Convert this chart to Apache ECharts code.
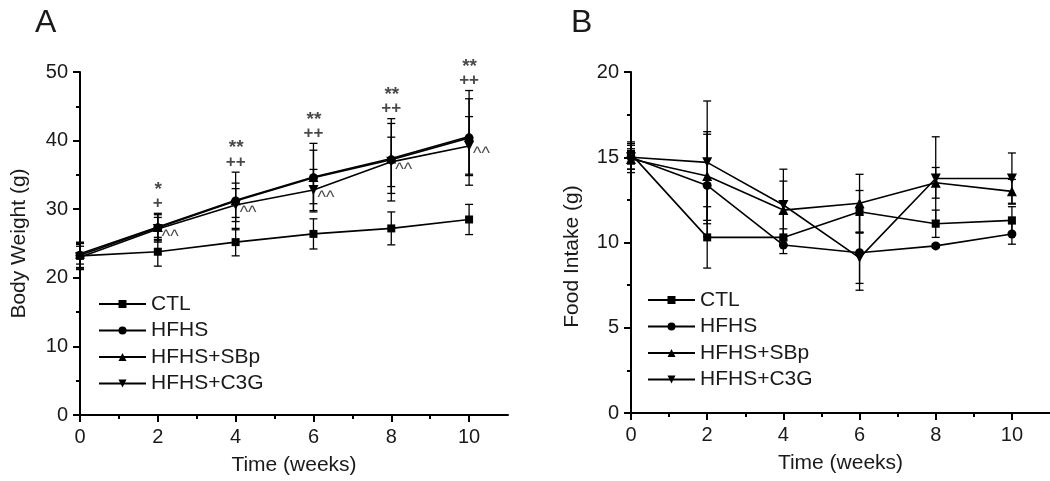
<!DOCTYPE html>
<html lang="en">
<head>
    <meta charset="UTF-8">
    <title>Body Weight and Food Intake</title>
    <script src="https://cdn.jsdelivr.net/npm/echarts@6/dist/echarts.min.js"></script>
</head>
<body style="margin:0">
    <div id="main" style="width:1050px;height:481px;"></div>
</body>
    <script>
        // x values and tick labels
        var weeks = [0, 2, 4, 6, 8, 10];
        var majorTicks = [0, 2, 4, 6, 8, 10];
        var minorTicks = [1, 3, 5, 7, 9];
        var groups = ['CTL', 'HFHS', 'HFHS+SBp', 'HFHS+C3G'];

        // A: body weight (g), mean and sd
        var bwCTL = [23.2, 23.8, 25.2, 26.4, 27.2, 28.5];
        var bwCTLsd = [2.0, 2.1, 2.0, 2.2, 2.4, 2.2];
        var bwHFHS = [23.3, 27.3, 31.2, 34.6, 37.2, 40.4];
        var bwHFHSsd = [1.8, 2.1, 4.2, 5.0, 6.0, 6.9];
        var bwSBp = [23.5, 27.4, 31.3, 34.7, 37.4, 40.6];
        var bwSBpsd = [1.5, 1.8, 2.5, 3.9, 5.1, 5.5];
        var bwC3G = [23.0, 27.1, 30.6, 32.8, 36.9, 39.2];
        var bwC3Gsd = [1.6, 1.7, 2.4, 3.0, 3.6, 4.3];

        // B: food intake (g), mean and sd
        var fiCTL = [15.2, 10.3, 10.3, 11.8, 11.1, 11.3];
        var fiCTLsd = [0.6, 1.8, 0.5, 1.25, 0.8, 0.8];
        var fiHFHS = [15.0, 13.35, 9.85, 9.4, 9.8, 10.5];
        var fiHFHSsd = [0.9, 3.0, 0.5, 2.2, 0.1, 0.6];
        var fiSBp = [14.9, 13.9, 11.9, 12.3, 13.5, 13.0];
        var fiSBpsd = [0.6, 2.6, 1.7, 1.7, 0.9, 0.7];
        var fiC3G = [15.0, 14.7, 12.2, 9.1, 13.75, 13.75];
        var fiC3Gsd = [0.7, 3.6, 2.1, 1.5, 2.45, 1.5];

        // significance marks on panel A
        var sigWeeks = [2, 4, 6, 8, 10];
        var sigStar = ['*', '**', '**', '**', '**'];
        var sigPlus = ['+', '++', '++', '++', '++'];
        var caretLabel = ['^^', '^^', '^^', '^^', '^^'];

        var bwMeans = [bwCTL, bwHFHS, bwSBp, bwC3G];
        var bwSds = [bwCTLsd, bwHFHSsd, bwSBpsd, bwC3Gsd];
        var fiMeans = [fiCTL, fiHFHS, fiSBp, fiC3G];
        var fiSds = [fiCTLsd, fiHFHSsd, fiSBpsd, fiC3Gsd];

        var symbols = ['rect', 'circle', 'triangle', 'triangle'];
        var rotates = [0, 0, 0, 180];
        var sizes = [8, 9, 10, 10];
        var textColor = '#1a1a1a';
        var fontFamily = 'Liberation Sans, Arial, sans-serif';

        var chart = echarts.init(document.getElementById('main'));

        function errRender(params, api) {
            var x = api.value(0);
            var pHi = api.coord([x, api.value(2)]);
            var pLo = api.coord([x, api.value(1)]);
            var w = 4;
            var st = { stroke: '#000', lineWidth: 1.3 };
            return {
                type: 'group',
                children: [
                    { type: 'line', shape: { x1: pHi[0], y1: pHi[1], x2: pLo[0], y2: pLo[1] }, style: st },
                    { type: 'line', shape: { x1: pHi[0] - w, y1: pHi[1], x2: pHi[0] + w, y2: pHi[1] }, style: st },
                    { type: 'line', shape: { x1: pLo[0] - w, y1: pLo[1], x2: pLo[0] + w, y2: pLo[1] }, style: st }
                ]
            };
        }

        function xAxes(grid) {
            return [{
                gridIndex: grid, type: 'value', min: 0, max: 11, interval: 1, position: 'bottom',
                name: 'Time (weeks)', nameLocation: 'middle', nameGap: 40,
                nameTextStyle: { fontSize: 21, color: textColor, fontFamily: fontFamily },
                axisLine: { lineStyle: { color: '#000', width: 2 } },
                axisTick: { customValues: majorTicks, length: 7, lineStyle: { color: '#000', width: 2 } },
                axisLabel: { customValues: majorTicks, fontSize: 20, color: textColor, margin: 12, fontFamily: fontFamily },
                splitLine: { show: false }
            }, {
                gridIndex: grid, type: 'value', min: 0, max: 11, interval: 1, position: 'bottom',
                axisLine: { show: false },
                axisTick: { customValues: minorTicks, length: 4, lineStyle: { color: '#000', width: 2 } },
                axisLabel: { show: false },
                splitLine: { show: false }
            }];
        }

        function yAxis(grid, max, interval, name, gap, pad) {
            return {
                gridIndex: grid, type: 'value', min: 0, max: max, interval: interval,
                name: name, nameLocation: 'middle', nameGap: gap,
                nameTextStyle: { fontSize: 21, color: textColor, fontFamily: fontFamily, padding: pad },
                axisLine: { show: true, lineStyle: { color: '#000', width: 2 } },
                axisTick: { show: true, length: 7, lineStyle: { color: '#000', width: 2 } },
                minorTick: { show: true, splitNumber: 2, length: 4, lineStyle: { color: '#000', width: 2 } },
                axisLabel: { fontSize: 20, color: textColor, margin: 12, fontFamily: fontFamily },
                splitLine: { show: false }
            };
        }

        var series = [];
        function addPanel(means, sds, xIdx, yIdx) {
            groups.forEach(function (g, i) {
                series.push({
                    name: g, type: 'line', xAxisIndex: xIdx, yAxisIndex: yIdx,
                    data: weeks.map(function (w, k) { return [w, means[i][k]]; }),
                    symbol: symbols[i], symbolRotate: rotates[i], symbolSize: sizes[i],
                    lineStyle: { color: '#000', width: 1.6 },
                    itemStyle: { color: '#000' },
                    z: 3, silent: true
                });
                series.push({
                    name: g + ' sd', type: 'custom', xAxisIndex: xIdx, yAxisIndex: yIdx,
                    renderItem: errRender,
                    encode: { x: 0, y: [1, 2] },
                    data: weeks.map(function (w, k) {
                        return [w, means[i][k] - sds[i][k], means[i][k] + sds[i][k]];
                    }),
                    z: 2, silent: true
                });
            });
        }
        addPanel(bwMeans, bwSds, 0, 0);
        addPanel(fiMeans, fiSds, 2, 1);

        // star/plus marks above the tallest error bar
        var sigData = sigWeeks.map(function (w, k) {
            var idx = weeks.indexOf(w);
            var top = Math.max.apply(null, groups.map(function (g, i) { return bwMeans[i][idx] + bwSds[i][idx]; }));
            return { value: [w, top], label: { formatter: '{s|' + sigStar[k] + '}\n{p|' + sigPlus[k] + '}' } };
        });
        series.push({
            name: 'sig', type: 'scatter', xAxisIndex: 0, yAxisIndex: 0,
            symbolSize: 0, silent: true, data: sigData,
            label: {
                show: true, position: 'top', distance: 2, color: textColor, fontFamily: fontFamily,
                rich: {
                    s: { fontSize: 19, fontWeight: 'bold', lineHeight: 12, color: textColor, fontFamily: fontFamily, padding: [0, 0, 0, 1] },
                    p: { fontSize: 17, fontWeight: 'bold', lineHeight: 16, color: textColor, fontFamily: fontFamily }
                }
            }
        });
        series.push({
            name: 'caret', type: 'scatter', xAxisIndex: 0, yAxisIndex: 0,
            symbolSize: 0, silent: true,
            data: sigWeeks.map(function (w, k) {
                return { value: [w, bwC3G[weeks.indexOf(w)]], label: { formatter: caretLabel[k] } };
            }),
            label: { show: true, position: 'right', distance: 4, offset: [0, 8], fontSize: 18,
                     color: textColor, fontFamily: fontFamily }
        });

        function legend(left, top) {
            return {
                data: groups, orient: 'vertical', left: left, top: top, padding: 0,
                itemWidth: 47, itemHeight: 10, itemGap: 4.5,
                textStyle: { fontSize: 21, lineHeight: 22, color: textColor, fontFamily: fontFamily },
                selectedMode: false
            };
        }

        chart.setOption({
            animation: false,
            backgroundColor: '#fff',
            title: [
                { text: 'A', left: 30, top: 2, textStyle: { fontSize: 32, fontWeight: 'normal', color: textColor, fontFamily: fontFamily } },
                { text: 'B', left: 566, top: 2, textStyle: { fontSize: 32, fontWeight: 'normal', color: textColor, fontFamily: fontFamily } }
            ],
            legend: [legend(98, 293), legend(647, 289)],
            grid: [
                { left: 80, top: 72, width: 428, height: 345 },
                { left: 631, top: 72, width: 419, height: 341 }
            ],
            xAxis: xAxes(0).concat(xAxes(1)),
            yAxis: [
                yAxis(0, 50, 10, 'Body Weight (g)', 50, 0),
                yAxis(1, 20, 5, 'Food Intake (g)', 48, [0, 28, 0, 0])
            ],
            series: series
        });
    </script>
</html>
